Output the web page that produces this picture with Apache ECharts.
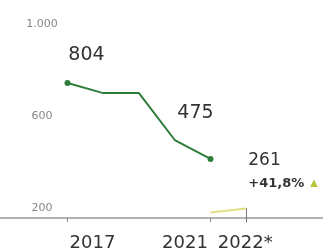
<!DOCTYPE html>
<html>
<head>
<meta charset="utf-8">
<script src="https://cdn.jsdelivr.net/npm/echarts@6/dist/echarts.min.js"></script>
<style>
  html, body { margin: 0; padding: 0; background: #fff; }
  #main { width: 323px; height: 252px; }
</style>
</head>
<body>
<div id="main"></div>
<script>
// Werte
var years = [2017, 2018, 2019, 2020, 2021];
var mainValues = [804, 760, 760, 557, 475];
var subYears = [2021, 2022];
var subValues = [243, 261];
var xTicks = [2017, 2021, 2022];
var xTickLabels = ['2017', '2021', '2022*'];
var yTicks = [200, 600, 1000];
var yTickLabels = ['200', '600', '1.000'];

var FONT = 'DejaVu Sans';
var chart = echarts.init(document.getElementById('main'), null, { renderer: 'canvas' });

// nur die Endpunkte bekommen einen Punkt und eine Beschriftung
var mainData = years.map(function (y, i) {
  var item = { value: [y, mainValues[i]], symbol: 'none' };
  if (i === 0) {
    item.symbol = 'circle';
    item.label = { show: true, position: 'inside', offset: [19, -28] };
  }
  if (i === years.length - 1) {
    item.symbol = 'circle';
    item.label = { show: true, position: 'inside', offset: [-15, -46] };
  }
  return item;
});

var subData = subYears.map(function (y, i) {
  var item = { value: [y, subValues[i]], symbol: 'none' };
  if (i === subYears.length - 1) {
    item.symbol = 'circle';
    item.symbolSize = 1;
    item.itemStyle = { color: 'rgba(0,0,0,0)' };
    item.label = {
      show: true,
      position: 'inside',
      align: 'left',
      verticalAlign: 'top',
      offset: [2, -57],
      formatter: '{v|' + subValues[i] + '}\n{p|+41,8%} {t|▲}',
      rich: {
        v: { fontSize: 17, color: '#333', lineHeight: 19, fontFamily: FONT },
        p: { fontSize: 13, fontWeight: 'bold', color: '#333', lineHeight: 27, fontFamily: FONT },
        t: { fontSize: 13, color: '#b9c43a', lineHeight: 27 }
      }
    };
  }
  return item;
});

var option = {
  backgroundColor: '#fff',
  animation: false,
  grid: {
    left: 0,
    right: 0,
    top: 0,
    bottom: 29.5,
    containLabel: false
  },
  xAxis: {
    type: 'value',
    min: 2015.112,
    max: 2024.147,
    offset: -4.5,
    splitLine: { show: false },
    axisLine: { show: true, lineStyle: { color: '#999', width: 1.5 } },
    axisTick: {
      show: true,
      customValues: xTicks,
      length: 4,
      lineStyle: { color: '#888' }
    },
    axisLabel: {
      customValues: xTicks,
      margin: 16,
      formatter: function (v) {
        var idx = xTicks.indexOf(v);
        var key = ['a', 'b', 'c'][idx];
        return '{' + key + '|' + xTickLabels[idx] + '}';
      },
      rich: {
        a: { fontSize: 18, color: '#333', fontFamily: FONT, padding: [0, 0, 0, 50] },
        b: { fontSize: 18, color: '#333', fontFamily: FONT, padding: [0, 51, 0, 0] },
        c: { fontSize: 18, color: '#333', fontFamily: FONT, padding: [0, 2, 0, 0] }
      }
    }
  },
  yAxis: {
    type: 'value',
    min: 200,
    max: 1163,
    splitLine: { show: false },
    axisLine: { show: false },
    axisTick: { show: false },
    axisLabel: {
      inside: true,
      customValues: yTicks,
      align: 'center',
      margin: 42,
      formatter: function (v) {
        var idx = yTicks.indexOf(v);
        return idx >= 0 ? '{y|' + yTickLabels[idx] + '}' : '';
      },
      rich: {
        y: { fontSize: 11, color: '#888', fontFamily: FONT, padding: [0, 0, 28, 0] }
      }
    }
  },
  series: [
    {
      type: 'line',
      data: mainData,
      symbolSize: 6,
      lineStyle: { color: '#2f7d3b', width: 2 },
      itemStyle: { color: '#2f7d3b' },
      label: { fontSize: 19, color: '#333', fontFamily: FONT }
    },
    {
      type: 'line',
      data: subData,
      symbol: 'none',
      lineStyle: { color: '#e0df86', width: 2 },
      itemStyle: { color: '#e0df86' },
      markLine: {
        silent: true,
        symbol: 'none',
        label: { show: false },
        lineStyle: { color: '#777', width: 1, type: 'solid' },
        data: [[{ coord: [2022, 200] }, { coord: [2022, 261] }]]
      }
    }
  ]
};

chart.setOption(option);
</script>
</body>
</html>
